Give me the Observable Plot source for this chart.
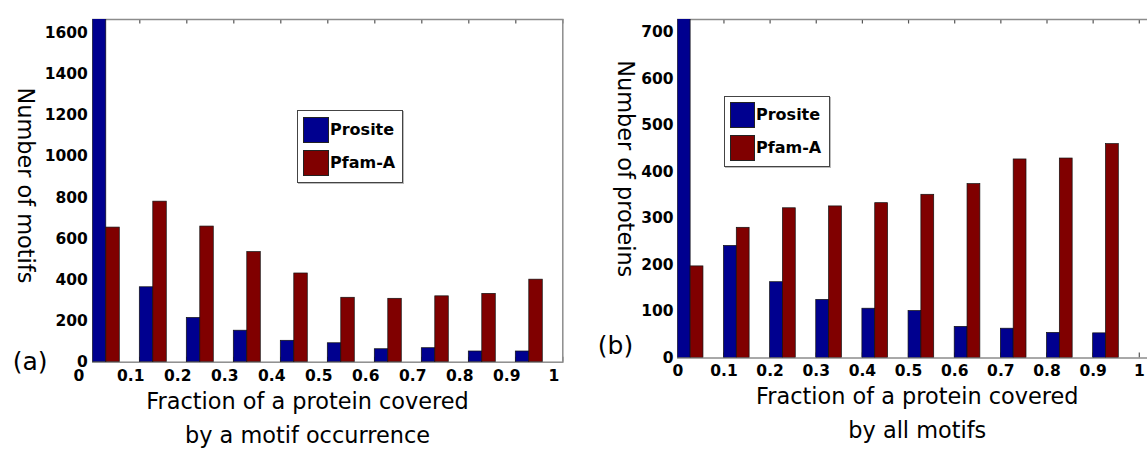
<!DOCTYPE html>
<html>
<head>
<meta charset="utf-8">
<script src="https://cdn.jsdelivr.net/npm/d3@7"></script>
<script src="https://cdn.jsdelivr.net/npm/@observablehq/plot@0.6"></script>
<style>
  html, body { margin: 0; padding: 0; background: #fff; }
  body { width: 1147px; height: 449px; overflow: hidden; position: relative; }
  .legend { position: absolute; border: 1px solid #444; background: #fff; box-shadow: 1px 1px 0 #bbb; }
  .sw { position: absolute; border: 1px solid #222; box-sizing: border-box; }
  .lt { position: absolute; font: bold 16px "DejaVu Sans", sans-serif; line-height: 1; color: #000; white-space: nowrap; }
</style>
</head>
<body>
<script>
// ---------------- data ----------------
const bins = [0, 0.1, 0.2, 0.3, 0.4, 0.5, 0.6, 0.7, 0.8, 0.9];
const series = ["Prosite", "Pfam-A"];
// (a) Number of motifs
const prositeMotifs = [1700, 364, 215, 153, 104, 92, 63, 68, 52, 52];
const pfamMotifs    = [654, 780, 659, 535, 431, 313, 308, 320, 332, 401];
// (b) Number of proteins
const prositeProteins = [740, 241, 163, 125, 106, 101, 67, 63, 54, 53];
const pfamProteins    = [197, 280, 322, 326, 333, 351, 374, 427, 429, 460];
// tick labels
const xTickValues = [0, 0.1, 0.2, 0.3, 0.4, 0.5, 0.6, 0.7, 0.8, 0.9, 1];
const xTickLabels = ["0", "0.1", "0.2", "0.3", "0.4", "0.5", "0.6", "0.7", "0.8", "0.9", "1"];
const yTicksA = [0, 200, 400, 600, 800, 1000, 1200, 1400, 1600];
const yTicksB = [0, 100, 200, 300, 400, 500, 600, 700];

// ---------------- style ----------------
const BLUE = "#00008f", RED = "#800000";
const LABEL_FONT = "DejaVu Sans, sans-serif";

function panel(cfg) {
  const frameH = cfg.height - cfg.marginTop - cfg.marginBottom;
  const idx = d3.range(bins.length);
  const tickFont = {fontFamily: LABEL_FONT, fontWeight: "bold", fontSize: 15.5, fill: "#000"};
  const titleFont = {fontFamily: LABEL_FONT, fontSize: 22.4, fill: "#000"};
  const marks = [
    // tick marks (inward), under bars
    Plot.tickX(xTickValues.slice(1), {x: d => d, stroke: "#555", strokeWidth: 1.2, insetBottom: frameH - 4.5}),
    Plot.tickX(xTickValues.slice(1), {x: d => d, stroke: "#555", strokeWidth: 1.2, insetTop: frameH - 5}),
    Plot.frame({stroke: "#8c8c8c", strokeWidth: 1.5}),
    Plot.rectY(idx, {x1: i => bins[i], x2: i => bins[i] + cfg.barW, y: i => cfg.s1[i],
      fill: BLUE, stroke: "#111", strokeWidth: 0.7, clip: true}),
    Plot.rectY(idx, {x1: i => bins[i] + cfg.barW, x2: i => bins[i] + 2 * cfg.barW, y: i => cfg.s2[i],
      fill: RED, stroke: "#111", strokeWidth: 0.7, clip: true}),
    // y tick labels
    Plot.text(cfg.yTicks, {y: d => d, frameAnchor: "left", text: d => String(d), textAnchor: "end",
      lineAnchor: "middle", dx: cfg.yLabelDx, ...tickFont}),
    // x tick labels
    Plot.text(xTickLabels.slice(0, 1), {x: () => xTickValues[0], frameAnchor: "bottom", text: d => d,
      textAnchor: "middle", lineAnchor: "middle", dy: cfg.xLabelDy, dx: cfg.zeroDx, ...tickFont}),
    Plot.text(xTickLabels.slice(1), {x: (d, i) => xTickValues[i + 1], frameAnchor: "bottom", text: d => d,
      textAnchor: "middle", lineAnchor: "middle", dy: cfg.xLabelDy, dx: cfg.tickDx, ...tickFont}),
    // axis titles
    Plot.text([cfg.yTitle], {frameAnchor: "left", text: d => d, rotate: 90, textAnchor: "middle", lineAnchor: "middle",
      dx: cfg.yTitlePos[0], dy: cfg.yTitlePos[1], ...titleFont}),
    Plot.text([cfg.xTitle1], {frameAnchor: "bottom-left", text: d => d, lineAnchor: "middle", textAnchor: "middle",
      dx: cfg.xTitlePos[0], dy: cfg.xTitlePos[1], ...titleFont}),
    Plot.text([cfg.xTitle2], {frameAnchor: "bottom-left", text: d => d, lineAnchor: "middle", textAnchor: "middle",
      dx: cfg.xTitlePos[0], dy: cfg.xTitlePos[2], ...titleFont}),
    Plot.text([cfg.tag], {frameAnchor: "bottom-left", text: d => d, lineAnchor: "middle", textAnchor: "middle",
      dx: cfg.tagPos[0], dy: cfg.tagPos[1], fontFamily: LABEL_FONT, fontSize: 25, fill: "#000"})
  ];
  const svg = Plot.plot({
    width: cfg.width, height: cfg.height,
    marginLeft: cfg.marginLeft, marginRight: cfg.marginRight,
    marginTop: cfg.marginTop, marginBottom: cfg.marginBottom,
    x: {domain: cfg.xDomain, axis: null},
    y: {domain: cfg.yDomain, axis: null},
    style: {background: "transparent", overflow: "visible"},
    marks
  });
  svg.style.position = "absolute";
  svg.style.left = cfg.left + "px";
  svg.style.top = "0px";
  document.body.appendChild(svg);
}

panel({
  left: 0, width: 573, height: 449,
  marginLeft: 92.3, marginRight: 10.7, marginTop: 19, marginBottom: 87.3,
  xDomain: [0, 1], yDomain: [0, 1665], yTicks: yTicksA,
  s1: prositeMotifs, s2: pfamMotifs, barW: 0.0287,
  yLabelDx: -5, xLabelDy: 13.5, tickDx: -9, zeroDx: -14,
  yTitle: "Number of motifs", yTitlePos: [-67.3, -5.4],
  xTitle1: "Fraction of a protein covered", xTitle2: "by a motif occurrence", xTitlePos: [214.7, 40, 73.3],
  tag: "(a)", tagPos: [-62.7, 0]
});

panel({
  left: 573, width: 620, height: 449,
  marginLeft: 104.3, marginRight: 8.05, marginTop: 19, marginBottom: 91.5,
  xDomain: [0, 1.1], yDomain: [0, 728], yTicks: yTicksB,
  s1: prositeProteins, s2: pfamProteins, barW: 0.0278,
  yLabelDx: -4.3, xLabelDy: 13.5, tickDx: 0, zeroDx: 0,
  yTitle: "Number of proteins", yTitlePos: [-52.9, -20],
  xTitle1: "Fraction of a protein covered", xTitle2: "by all motifs", xTitlePos: [239.5, 39.2, 72.5],
  tag: "(b)", tagPos: [-62.3, -12.5]
});

// ---------------- legends ----------------
function legend(box, sw, textLeft, textCenters) {
  const lg = document.createElement("div");
  lg.className = "legend";
  Object.assign(lg.style, {left: box[0] + "px", top: box[1] + "px", width: box[2] + "px", height: box[3] + "px"});
  document.body.appendChild(lg);
  [BLUE, RED].forEach((c, i) => {
    const s = document.createElement("div");
    s.className = "sw";
    Object.assign(s.style, {left: sw[0] + "px", top: sw[1 + i] + "px", width: sw[3] + "px", height: sw[4] + "px", background: c});
    document.body.appendChild(s);
    const t = document.createElement("div");
    t.className = "lt";
    t.textContent = series[i];
    Object.assign(t.style, {left: textLeft + "px", top: (textCenters[i] - 8) + "px"});
    document.body.appendChild(t);
  });
}
legend([297, 110, 104, 71], [303, 117, 150, 26, 25.5], 330, [130, 163]);
legend([724, 96, 104, 69], [729.5, 102, 135, 25, 25.5], 756, [115, 148]);
</script>
</body>
</html>
